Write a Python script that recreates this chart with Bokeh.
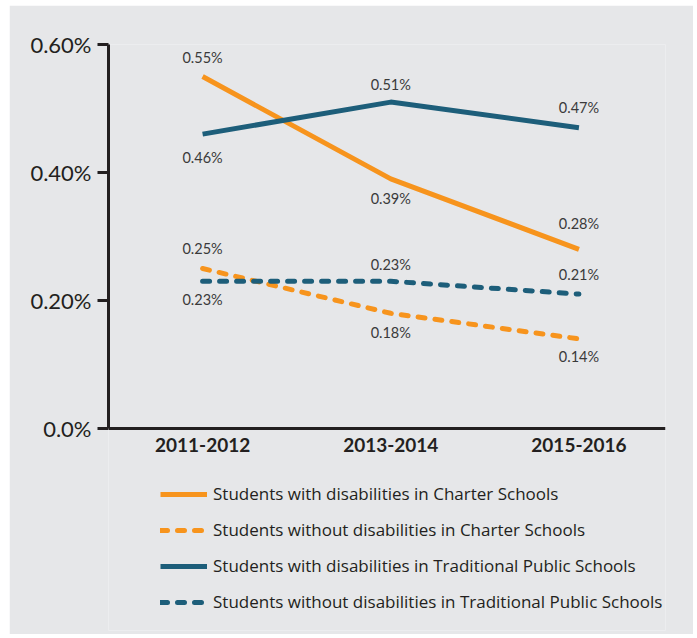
from bokeh.plotting import figure
from bokeh.models import Legend, LegendItem, ColumnDataSource, Range1d, FixedTicker
from bokeh.core.properties import value
from bokeh.embed import file_html
from bokeh.resources import INLINE

years = ["2011-2012", "2013-2014", "2015-2016"]
charter_with = [0.55, 0.39, 0.28]
charter_without = [0.25, 0.18, 0.14]
tps_with = [0.46, 0.51, 0.47]
tps_without = [0.23, 0.23, 0.21]
y_ticks = [0.0, 0.2, 0.4, 0.6]
y_tick_labels = ["0.0%", "0.20%", "0.40%", "0.60%"]

series_names = [
    "Students with disabilities in Charter Schools",
    "Students without disabilities in Charter Schools",
    "Students with disabilities in Traditional Public Schools",
    "Students without disabilities in Traditional Public Schools",
]

ORANGE = "#f7941d"
TEAL = "#1d5e7a"
BG = "#e6e7e9"
DARK = "#231f20"
FONT = "Lato"
LFONT = "Open Sans"

xs = list(range(len(years)))
Y_TOP = 0.6
Y_BOTTOM = 0.6 - 586 / 640  # extra room below zero holds the legend

p = figure(frame_width=557, frame_height=586, output_backend="svg", toolbar_location=None,
           x_range=Range1d(-0.5, 2.46), y_range=Range1d(Y_BOTTOM, Y_TOP),
           min_border_left=99, min_border_right=28, min_border_top=39,
           min_border_bottom=4)
p.margin = (5, 4, 4, 9)
p.border_fill_color = BG
p.background_fill_color = BG
p.outline_line_color = None
p.xgrid.visible = False
p.ygrid.visible = False

# y axis (only spans 0 .. 0.6)
p.yaxis.bounds = (0, Y_TOP)
p.yaxis.ticker = FixedTicker(ticks=y_ticks)
p.yaxis.major_label_overrides = {t: l for t, l in zip(y_ticks, y_tick_labels)}
p.yaxis.major_tick_out = 11
p.yaxis.major_tick_in = 0
p.yaxis.minor_tick_line_color = None
p.yaxis.axis_line_width = 3
p.yaxis.major_tick_line_width = 3
p.yaxis.axis_line_color = DARK
p.yaxis.major_tick_line_color = DARK
p.yaxis.major_label_text_font = FONT
p.yaxis.major_label_text_font_size = "22px"
p.yaxis.major_label_text_color = DARK
p.yaxis.major_label_standoff = 6

# x axis line at y = 0
p.xaxis.fixed_location = 0
p.xaxis.ticker = FixedTicker(ticks=[])
p.xaxis.major_tick_line_color = None
p.xaxis.minor_tick_line_color = None
p.xaxis.axis_line_width = 3
p.xaxis.axis_line_color = DARK
p.xaxis.major_label_standoff = 0

# category labels under the x axis line
p.text(xs, [0] * len(xs), text=years, y_offset=16,
       text_align="center", text_baseline="middle",
       text_font=value(FONT), text_font_size="19px", text_font_style="bold",
       text_color=DARK)

series = [
    (charter_with, ORANGE, "solid", [-19, 20, -26]),
    (charter_without, ORANGE, "7 10", [-20, 19, 18]),
    (tps_with, TEAL, "solid", [23, -18, -20]),
    (tps_without, TEAL, "7 10", [18, -17, -20]),
]

items = []
for (vals, color, dash, offs), name in zip(series, series_names):
    r = p.line(xs, vals, line_color=color, line_width=5, line_dash=dash,
               line_cap="round" if dash != "solid" else "butt", line_join="round")
    items.append(LegendItem(label=name, renderers=[r]))
    src = ColumnDataSource(dict(x=xs, y=vals, t=[f"{v:.2f}%" for v in vals], off=offs))
    p.text("x", "y", text="t", source=src, y_offset="off",
           text_align="center", text_baseline="middle",
           text_font=value(FONT), text_font_size="14.5px", text_color="#3a3a3a")

legend = Legend(items=items, location=(52, 17), orientation="vertical",
                glyph_width=47, glyph_height=20, spacing=13, padding=0,
                label_standoff=6, margin=0,
                label_text_font=LFONT, label_text_font_size="17px",
                label_text_color=DARK,
                background_fill_alpha=0, border_line_alpha=0)
p.add_layout(legend, "center")

open("out.html", "w").write(file_html(p, INLINE))
